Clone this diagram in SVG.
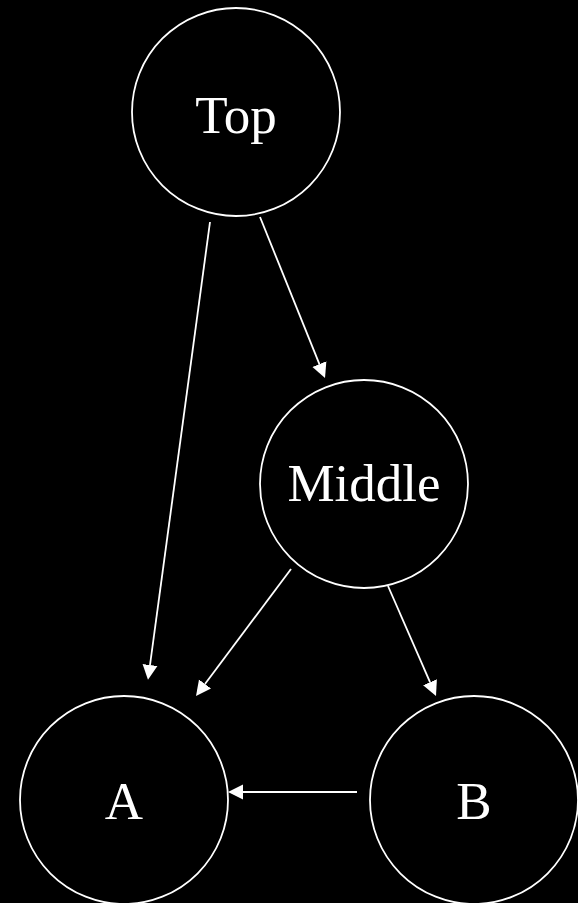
<svg xmlns="http://www.w3.org/2000/svg" width="578" height="903" viewBox="0 0 578 903">
<style>
.node circle{fill:#000;stroke:#fff;stroke-width:1.8}
.node text{fill:#fff;font-family:"Liberation Serif","Times New Roman",serif;font-size:53px;text-anchor:middle}
.edges line{stroke:#fff;stroke-width:1.8;marker-end:url(#arr)}
</style>
<defs>
<marker id="arr" markerUnits="userSpaceOnUse" markerWidth="18" markerHeight="18" viewBox="0 -9 18 18" refX="0" refY="0" orient="auto">
<path d="M0,-7.5 L15,0 L0,7.5 z" fill="#fff"/>
</marker>
</defs>
<rect width="578" height="903" fill="#000"/>
<g class="edges">
<line x1="210" y1="222" x2="150" y2="665"/>
<line x1="260" y1="217" x2="319.4" y2="364.1"/>
<line x1="291" y1="569" x2="205" y2="684"/>
<line x1="388" y1="586" x2="430" y2="682.2"/>
<line x1="357" y1="792" x2="243" y2="792"/>
</g>
<g id="top" class="node"><circle cx="236" cy="112" r="104"/><text x="236" y="133">Top</text></g>
<g id="middle" class="node"><circle cx="364" cy="484" r="104"/><text x="364" y="501">Middle</text></g>
<g id="a" class="node"><circle cx="124" cy="800" r="104"/><text x="124" y="819">A</text></g>
<g id="b" class="node"><circle cx="474" cy="800" r="104"/><text x="474" y="819">B</text></g>
</svg>
